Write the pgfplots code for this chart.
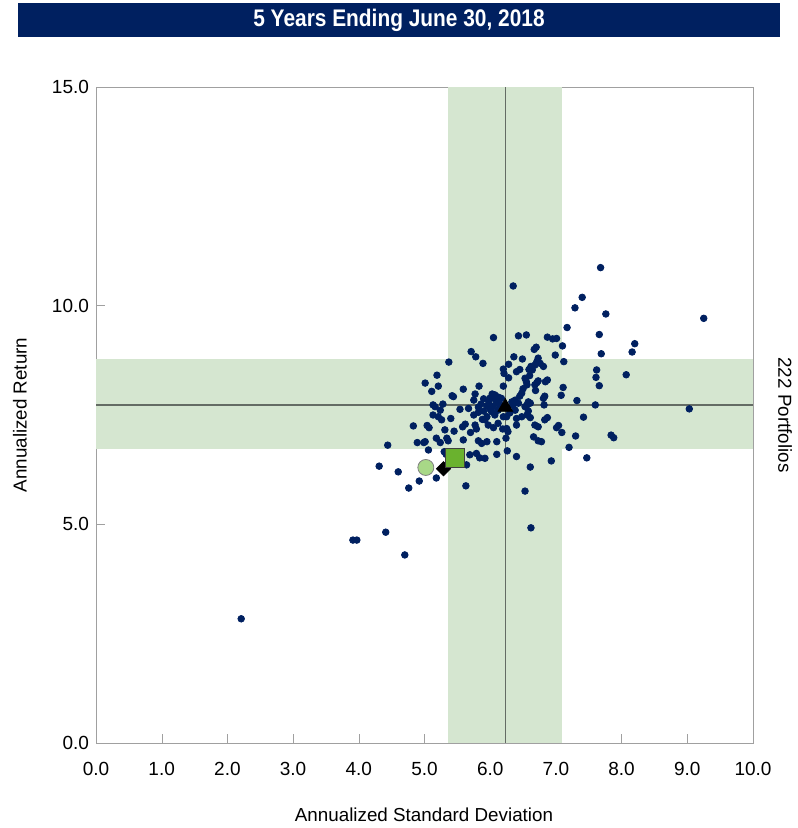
\documentclass[border=0pt]{standalone}
\usepackage{fontspec}
\setmainfont{Liberation Sans}
\newfontfamily\narrowfont[FakeStretch=0.87]{Liberation Sans}
\usepackage{pgfplots}
\usepackage{pgfplotstable}
\pgfplotsset{compat=1.18}
\definecolor{navy}{RGB}{0,32,96}
\definecolor{band}{RGB}{213,230,208}
\definecolor{axgray}{RGB}{160,160,160}
\definecolor{lightg}{RGB}{168,216,135}
\definecolor{sqg}{RGB}{106,178,46}
\definecolor{linegray}{RGB}{100,108,100}

\pgfplotstableread{
x y
2.21 2.84
3.91 4.64
3.97 4.64
4.41 4.82
4.70 4.30
4.31 6.33
4.44 6.81
4.60 6.20
4.76 5.83
4.92 5.99
5.18 6.06
5.63 5.88
6.53 5.76
6.62 4.92
4.83 7.25
4.89 6.87
4.99 6.87
6.35 10.45
7.68 10.87
7.40 10.19
7.29 9.95
7.76 9.81
9.25 9.71
7.17 9.50
7.66 9.34
7.01 9.25
8.20 9.13
7.10 9.08
8.16 8.94
7.69 8.90
6.99 8.87
7.12 8.72
7.62 8.53
7.61 8.36
8.07 8.42
7.66 8.17
7.11 8.13
7.08 7.95
7.32 7.83
7.60 7.73
9.03 7.64
7.42 7.45
7.04 7.26
7.01 7.21
7.09 7.10
7.30 7.02
7.84 7.04
7.88 6.98
7.20 6.76
6.05 9.27
5.71 8.95
5.78 8.83
5.37 8.71
5.89 8.68
6.28 8.66
6.20 8.55
6.21 8.45
5.19 8.41
5.01 8.23
5.21 8.16
6.28 8.35
5.83 8.16
5.59 8.09
5.11 8.04
6.20 8.16
5.42 7.94
5.44 7.92
5.77 7.98
6.03 7.98
6.07 7.96
6.12 7.91
6.00 7.89
5.90 7.87
5.75 7.84
5.13 7.73
5.28 7.75
5.67 7.65
6.10 7.77
6.15 7.73
6.04 7.69
5.95 7.71
5.82 7.68
5.54 7.63
6.43 9.31
6.55 9.33
6.87 9.28
6.95 9.24
6.70 9.05
6.67 9.00
6.36 8.83
6.49 8.78
6.73 8.80
6.71 8.72
6.76 8.68
6.68 8.64
6.62 8.61
6.59 8.54
6.64 8.53
6.81 8.61
6.45 8.54
6.40 8.49
6.53 8.34
6.55 8.26
6.56 8.19
6.73 8.28
6.71 8.24
6.68 8.19
6.84 8.26
6.87 8.30
6.69 8.06
6.83 7.93
6.81 7.88
6.48 8.00
6.45 7.93
6.58 7.80
6.61 7.77
6.56 7.73
6.38 7.84
6.33 7.80
6.43 7.77
6.35 7.73
6.82 7.73
5.16 7.69
5.24 7.61
5.13 7.50
5.21 7.46
5.26 7.39
5.40 7.42
5.75 7.50
5.82 7.56
5.90 7.59
5.95 7.46
6.02 7.58
6.07 7.50
6.12 7.61
6.20 7.46
5.04 7.26
5.07 7.21
5.31 7.16
5.45 7.13
5.58 7.23
5.62 7.29
5.77 7.27
5.79 7.18
5.92 7.39
5.97 7.27
6.05 7.21
6.12 7.31
6.19 7.18
5.01 6.89
5.18 6.97
5.24 6.87
5.34 6.97
5.36 6.91
5.59 6.93
5.82 6.91
5.87 6.85
5.95 6.89
6.10 6.89
6.24 6.97
5.06 6.70
5.30 6.66
5.33 6.60
5.69 6.59
5.79 6.62
5.84 6.52
5.92 6.51
6.10 6.60
5.64 6.36
6.27 7.65
6.38 7.61
6.53 7.69
6.58 7.59
6.56 7.50
6.25 7.46
6.40 7.42
6.48 7.46
6.61 7.44
6.83 7.39
6.87 7.44
6.25 7.19
6.27 7.12
6.40 7.27
6.68 7.27
6.73 7.23
6.66 7.00
6.73 6.91
6.78 6.89
6.26 6.68
6.40 6.55
6.93 6.45
7.47 6.52
6.61 6.31
5.98 7.80
6.08 7.85
5.86 7.75
6.00 7.63
6.30 7.55
6.17 7.88
5.88 7.40
6.50 8.10
6.60 8.40
5.70 7.10
}\portfolios

\begin{document}
\begin{tikzpicture}
\useasboundingbox (0,0) rectangle (398.5pt,414pt);
\fill[navy] (9pt,395.5pt) rectangle (390pt,412.5pt);
\node[text=white,font=\narrowfont\bfseries\fontsize{12}{14}\selectfont] at (199.5pt,404pt) {5 Years Ending June 30, 2018};
\begin{axis}[
  at={(48pt,42.5pt)}, anchor=south west, scale only axis,
  width=328.5pt, height=328pt,
  xmin=0, xmax=10, ymin=0, ymax=15,
  xtick={0,1,...,10}, ytick={0,5,10,15},
  tick pos=left, tick align=inside, major tick length=4.5pt,
  axis line style={axgray}, tick style={axgray},
  ticklabel style={font=\fontsize{9.5}{11}\selectfont},
  /pgf/number format/fixed, /pgf/number format/fixed zerofill,
  /pgf/number format/precision=1, /pgf/number format/assume math mode=true,
  xticklabel style={yshift=-6pt},
  clip=true,
]
\addplot[fill=band, draw=none] coordinates {(5.36,0) (7.09,0) (7.09,15) (5.36,15)} -- cycle;
\addplot[fill=band, draw=none] coordinates {(0,6.72) (10,6.72) (10,8.78) (0,8.78)} -- cycle;
\addplot[linegray, line width=0.65pt] coordinates {(6.23,0) (6.23,15)};
\addplot[linegray, line width=0.65pt] coordinates {(0,7.73) (10,7.73)};
\addplot[only marks, mark=*, mark size=1.65pt, color=navy] table[x=x,y=y] {\portfolios};
\addplot[only marks, mark=*, mark size=4pt, draw=gray, fill=lightg] coordinates {(5.02,6.30)};
\addplot[only marks, mark=square*, mark size=2.5pt, draw=black, fill=black, mark options={rotate=45}] coordinates {(5.29,6.27)};
\addplot[only marks, mark=square*, mark size=4.75pt, draw=darkgray, fill=sqg] coordinates {(5.47,6.51)};
\addplot[only marks, mark=triangle*, mark size=4.2pt, draw=black, fill=black] coordinates {(6.23,7.68)};
\end{axis}
\node[rotate=90, font=\fontsize{9.4}{11}\selectfont] at (10pt,206.5pt) {Annualized Return};
\node[rotate=-90, font=\fontsize{9.4}{11}\selectfont] at (392.5pt,206.5pt) {222 Portfolios};
\node[font=\fontsize{9.4}{11}\selectfont] at (212pt,6.5pt) {Annualized Standard Deviation};
\end{tikzpicture}
\end{document}
